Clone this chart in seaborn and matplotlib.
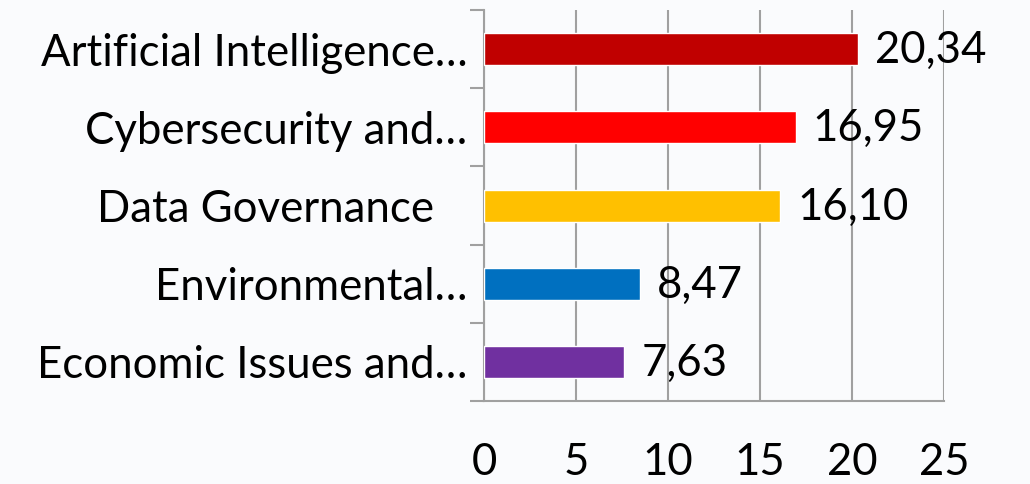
import matplotlib
matplotlib.use("Agg")
import matplotlib.pyplot as plt
import seaborn as sns
import pandas as pd
from matplotlib.ticker import MultipleLocator, FixedLocator

categories = [
    "Artificial Intelligence…",
    "Cybersecurity and…",
    "Data Governance   ",
    "Environmental…",
    "Economic Issues and…",
]
values = [20.34, 16.95, 16.10, 8.47, 7.63]
value_labels = ["20,34", "16,95", "16,10", "8,47", "7,63"]
bar_colors = ["#C00000", "#FF0000", "#FFC000", "#0070C0", "#7030A0"]
x_ticks = [0, 5, 10, 15, 20, 25]

BG = "#FAFBFD"
GRID = "#A0A0A0"
FS = 31.5

sns.set_theme(style="white")
plt.rcParams["font.family"] = ["Lato", "DejaVu Sans"]

df = pd.DataFrame({"category": categories, "value": values})

fig = plt.figure(figsize=(10.3, 4.84), dpi=100, facecolor=BG)
ax = fig.add_axes([0.470, 0.1715, 0.4465, 0.8075])
ax.set_facecolor(BG)

sns.barplot(data=df, x="value", y="category", hue="category",
            palette=bar_colors, orient="h", width=0.41, legend=False,
            saturation=1, ax=ax, zorder=3)

ax.set_xlim(0, 25)
ax.xaxis.set_major_locator(FixedLocator(x_ticks))
ax.set_xticklabels([str(t) for t in x_ticks])
ax.yaxis.set_minor_locator(MultipleLocator(1, offset=0.5))
ax.set_ylim(4.5, -0.5)

ax.grid(True, axis="x", color=GRID, lw=1.5, zorder=0)
ax.set_axisbelow(True)
for s in ["top", "right"]:
    ax.spines[s].set_visible(False)
for s in ["left", "bottom"]:
    ax.spines[s].set_color(GRID)
    ax.spines[s].set_linewidth(1.5)

ax.tick_params(axis="x", length=11.5, width=1.5, color=GRID, labelsize=FS,
               pad=18, labelcolor="black")
ax.tick_params(axis="y", which="major", length=0, labelsize=FS, pad=12,
               labelcolor="black")
ax.tick_params(axis="y", which="minor", length=10, width=1.5, color=GRID, left=True)

ax.set_xlabel("")
ax.set_ylabel("")

for i, (v, lab) in enumerate(zip(values, value_labels)):
    ax.annotate(lab, xy=(v, i), xytext=(12, -1), textcoords="offset points",
                ha="left", va="center", fontsize=FS, color="black", zorder=4)

fig.savefig("out.png", dpi=100, facecolor=BG)
